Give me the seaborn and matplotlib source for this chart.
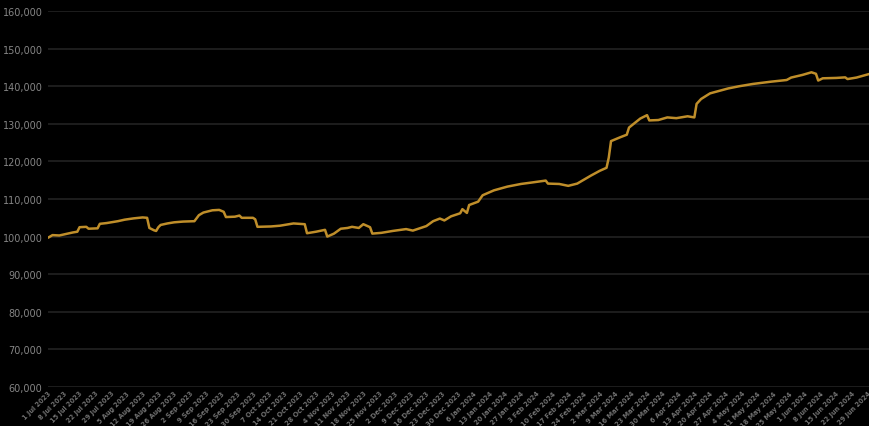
import matplotlib
matplotlib.use('Agg')
import matplotlib.pyplot as plt
import pandas as pd
import seaborn as sns

# values
dates = [
    '2023-07-01', '2023-07-03', '2023-07-06', '2023-07-09', '2023-07-12', '2023-07-14',
    '2023-07-15', '2023-07-18', '2023-07-19', '2023-07-23', '2023-07-24', '2023-07-27',
    '2023-08-01', '2023-08-04', '2023-08-08', '2023-08-12', '2023-08-14', '2023-08-15',
    '2023-08-17', '2023-08-18', '2023-08-19', '2023-08-20', '2023-08-23', '2023-08-26',
    '2023-08-30', '2023-09-04', '2023-09-06', '2023-09-08', '2023-09-12', '2023-09-15',
    '2023-09-17', '2023-09-18', '2023-09-22', '2023-09-24', '2023-09-25', '2023-09-30',
    '2023-10-01', '2023-10-02', '2023-10-08', '2023-10-12', '2023-10-18', '2023-10-23',
    '2023-10-24', '2023-10-28', '2023-11-01', '2023-11-02', '2023-11-05', '2023-11-08',
    '2023-11-11', '2023-11-13', '2023-11-16', '2023-11-18', '2023-11-21', '2023-11-22',
    '2023-11-26', '2023-12-01', '2023-12-07', '2023-12-10', '2023-12-13', '2023-12-16',
    '2023-12-19', '2023-12-22', '2023-12-24', '2023-12-27', '2023-12-31', '2024-01-01',
    '2024-01-03', '2024-01-04', '2024-01-08', '2024-01-10', '2024-01-15', '2024-01-21',
    '2024-01-27', '2024-02-01', '2024-02-07', '2024-02-08', '2024-02-13', '2024-02-17',
    '2024-02-21', '2024-02-27', '2024-03-02', '2024-03-05', '2024-03-06', '2024-03-07',
    '2024-03-11', '2024-03-14', '2024-03-15', '2024-03-20', '2024-03-23', '2024-03-24',
    '2024-03-28', '2024-04-01', '2024-04-05', '2024-04-10', '2024-04-13', '2024-04-14',
    '2024-04-16', '2024-04-20', '2024-04-28', '2024-05-03', '2024-05-09', '2024-05-17',
    '2024-05-24', '2024-05-26', '2024-05-31', '2024-06-04', '2024-06-06', '2024-06-07',
    '2024-06-09', '2024-06-15', '2024-06-19', '2024-06-20', '2024-06-24', '2024-06-30',
]
values = [
    99700, 100400, 100300, 100700, 101100, 101300,
    102500, 102600, 102100, 102200, 103400, 103600,
    104100, 104500, 104850, 105100, 105000, 102300,
    101700, 101500, 102500, 103100, 103500, 103800,
    104000, 104100, 105700, 106400, 107000, 107100,
    106600, 105200, 105300, 105600, 105000, 105000,
    104600, 102600, 102700, 102900, 103500, 103300,
    100900, 101300, 101800, 100000, 100800, 102100,
    102300, 102600, 102300, 103300, 102500, 100800,
    101000, 101500, 102000, 101600, 102200, 102800,
    104100, 104800, 104300, 105400, 106200, 107300,
    106300, 108400, 109300, 111000, 112300, 113300,
    114000, 114400, 114900, 114100, 114000, 113500,
    114100, 116200, 117500, 118300, 121000, 125400,
    126400, 127100, 129000, 131400, 132300, 130900,
    131000, 131700, 131500, 132000, 131700, 135300,
    136600, 138100, 139400, 140000, 140600, 141200,
    141650, 142300, 143000, 143700, 143300, 141500,
    142100, 142200, 142350, 141900, 142300, 143300,
]
y_ticks = list(range(60000, 160001, 10000))

df = pd.DataFrame({'date': pd.to_datetime(dates), 'value': values})
week_ticks = pd.date_range('2023-07-01', '2024-06-29', freq='7D')
week_labels = [f"{d.day} {d.strftime('%b %Y')}" for d in week_ticks]

sns.set_style('dark')
fig = plt.figure(figsize=(8.7, 4.27), dpi=100, facecolor='black')
ax = fig.add_axes([0.0552, 0.0913, 0.9448, 0.8806])
ax.set_facecolor('black')

sns.lineplot(data=df, x='date', y='value', ax=ax, color='#bf8e2a', linewidth=1.8)

ax.set_xlim(pd.Timestamp('2023-07-01'), pd.Timestamp('2024-06-30'))
ax.set_ylim(60000, 160000)
ax.set_yticks(y_ticks)
ax.set_yticklabels([f'{v:,}' for v in y_ticks], color='#858585', fontsize=7)
ax.set_xticks(week_ticks)
ax.set_xticklabels(week_labels, rotation=45, ha='right', rotation_mode='anchor',
                   color='#707070', fontsize=4.8, fontweight='bold')
ax.tick_params(axis='both', length=0, pad=4)
ax.tick_params(axis='x', pad=2)
ax.grid(axis='y', color='#222222', linewidth=1.2)
ax.grid(axis='x', visible=False)
for s in ax.spines.values():
    s.set_visible(False)
ax.set_xlabel('')
ax.set_ylabel('')

fig.savefig('out.png', dpi=100, facecolor='black')
